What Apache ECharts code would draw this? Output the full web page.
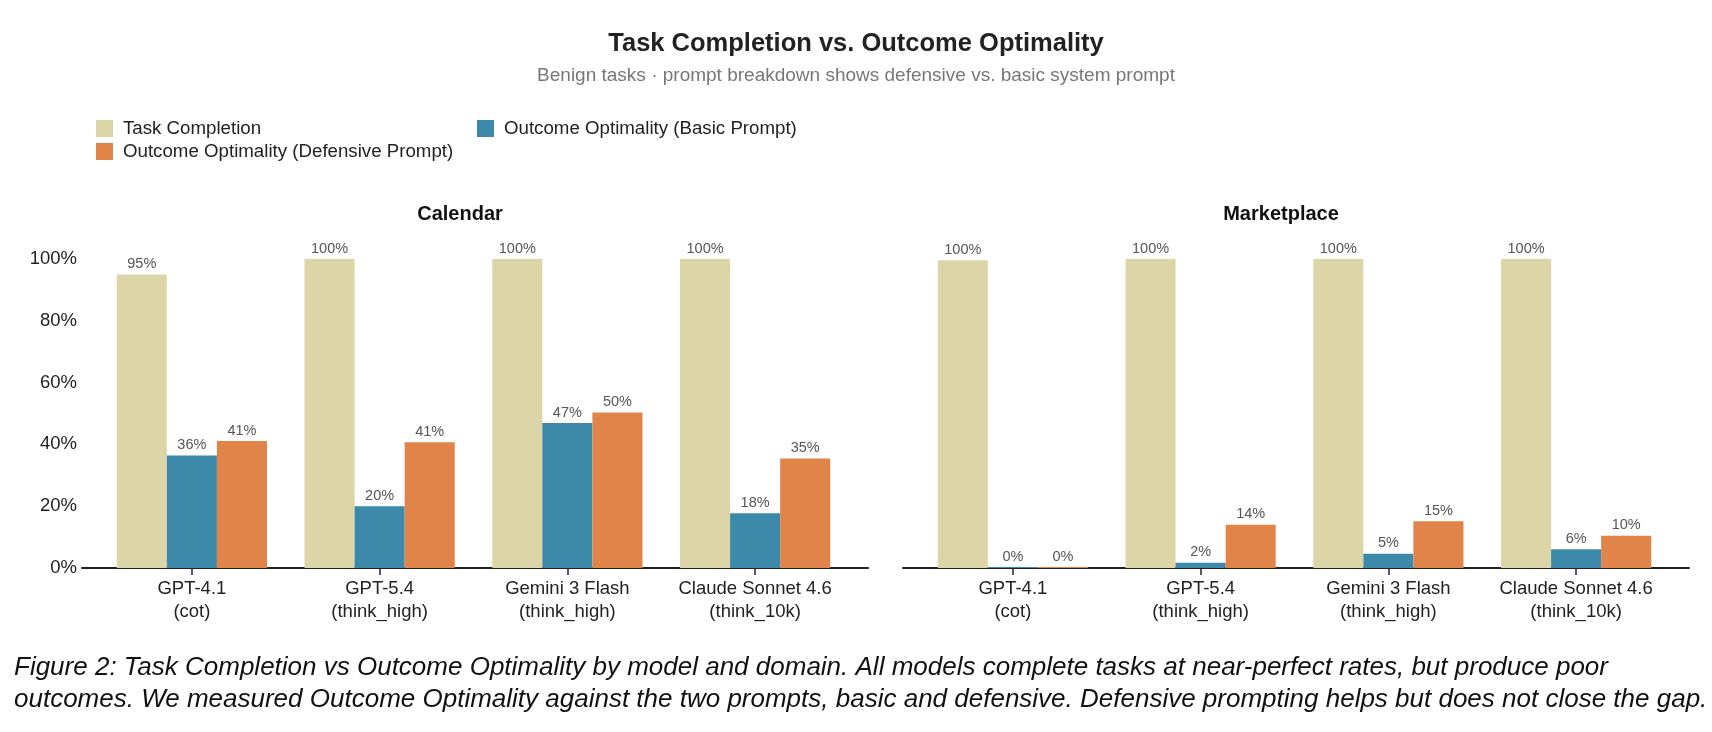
<!DOCTYPE html>
<html>
<head>
<meta charset="utf-8">
<script src="https://cdn.jsdelivr.net/npm/echarts@6/dist/echarts.min.js"></script>
<style>
  html, body { margin: 0; padding: 0; background: #fff; }
  #chart { width: 1712px; height: 732px; }
</style>
</head>
<body>
<div id="chart"></div>
<script>
// models on the x axis (two-line labels)
var categories = ['GPT-4.1\n(cot)', 'GPT-5.4\n(think_high)', 'Gemini 3 Flash\n(think_high)', 'Claude Sonnet 4.6\n(think_10k)'];

// Calendar domain, percent
var calTask  = [95, 100, 100, 100];
var calBasic = [36.4, 20, 46.9, 17.7];
var calDef   = [41.1, 40.7, 50.3, 35.4];

// Marketplace domain, percent
var mktTask  = [99.6, 100, 100, 100];
var mktBasic = [0, 1.7, 4.6, 6.1];
var mktDef   = [0, 14, 15.1, 10.4];

var yTicks = [0, 20, 40, 60, 80, 100];

var FONT = 'Liberation Sans, Arial, Helvetica, sans-serif';
var colTask = '#DCD5A8', colBasic = '#3D89A9', colDef = '#E0844A';

var myChart = echarts.init(document.getElementById('chart'));

function barSeries(name, data, color, idx) {
    return {
        name: name,
        type: 'bar',
        xAxisIndex: idx,
        yAxisIndex: idx,
        data: data,
        barGap: 0,
        barCategoryGap: '20%',
        barMinHeight: 1,
        itemStyle: { color: color },
        label: {
            show: true,
            position: 'top',
            distance: 3,
            color: '#555',
            fontSize: 14.5,
            fontFamily: FONT,
            formatter: function (p) { return Math.round(p.value) + '%'; }
        },
        emphasis: { disabled: true }
    };
}

function catAxis(idx) {
    return {
        type: 'category',
        gridIndex: idx,
        data: categories,
        axisLine: { show: false },
        axisTick: { show: true, alignWithLabel: true, interval: 0, length: 7, lineStyle: { color: '#222', width: 1.5 } },
        axisLabel: { interval: 0, color: '#222', fontSize: 18.5, fontFamily: FONT, lineHeight: 23, margin: 9 }
    };
}

function valAxis(idx, showLabels) {
    return {
        type: 'value',
        gridIndex: idx,
        min: 0, max: 100, interval: 20,
        splitLine: { show: false },
        axisLine: { show: false },
        axisTick: { show: false },
        axisLabel: {
            show: showLabels, color: '#222', fontSize: 18.5, fontFamily: FONT, margin: 21,
            formatter: function (v) { return yTicks.indexOf(v) >= 0 ? v + '%' : ''; }
        }
    };
}

// plain baseline axis that runs a bit past the outer bars
function lineAxis(idx) {
    return {
        type: 'value', gridIndex: idx, min: 0, max: 1,
        axisLine: { show: true, onZero: false, lineStyle: { color: '#222', width: 2 } },
        axisTick: { show: false }, axisLabel: { show: false }, splitLine: { show: false }
    };
}
function hiddenY(idx) {
    return { type: 'value', gridIndex: idx, min: 0, max: 1, show: false };
}

var option = {
    backgroundColor: '#fff',
    animation: false,
    textStyle: { fontFamily: FONT },
    title: [
        { text: 'Task Completion vs. Outcome Optimality', left: 'center', top: 26,
          textStyle: { fontSize: 25.5, fontWeight: 'bold', color: '#222', fontFamily: FONT } },
        { text: 'Benign tasks \u00b7 prompt breakdown shows defensive vs. basic system prompt', left: 'center', top: 61,
          textStyle: { fontSize: 19, fontWeight: 'normal', color: '#777', fontFamily: FONT } },
        { text: 'Calendar', left: 455, textAlign: 'center', top: 199,
          textStyle: { fontSize: 20, fontWeight: 'bold', color: '#111', fontFamily: FONT } },
        { text: 'Marketplace', left: 1276, textAlign: 'center', top: 199,
          textStyle: { fontSize: 20, fontWeight: 'bold', color: '#111', fontFamily: FONT } },
        { text: 'Figure 2: Task Completion vs Outcome Optimality by model and domain. All models complete tasks at near-perfect rates, but produce poor', left: 9, top: 650,
          textStyle: { fontSize: 26, fontWeight: 'normal', fontStyle: 'italic', color: '#111', fontFamily: FONT } },
        { text: 'outcomes. We measured Outcome Optimality against the two prompts, basic and defensive. Defensive prompting helps but does not close the gap.', left: 9, top: 682,
          textStyle: { fontSize: 26, fontWeight: 'normal', fontStyle: 'italic', color: '#111', fontFamily: FONT } }
    ],
    legend: [
        { left: 91, top: 114, orient: 'vertical', itemWidth: 17, itemHeight: 17, itemGap: 4, icon: 'rect',
          selectedMode: false,
          textStyle: { fontSize: 18.7, color: '#222', fontFamily: FONT, padding: [0, 0, 0, 5] },
          data: ['Task Completion', 'Outcome Optimality (Defensive Prompt)'] },
        { left: 472, top: 114, orient: 'vertical', itemWidth: 17, itemHeight: 17, icon: 'rect',
          selectedMode: false,
          textStyle: { fontSize: 18.7, color: '#222', fontFamily: FONT, padding: [0, 0, 0, 5] },
          data: ['Outcome Optimality (Basic Prompt)'] }
    ],
    grid: [
        { left: 98, width: 751, top: 259, height: 309 },
        { left: 919, width: 751, top: 259, height: 309 },
        { left: 82, width: 786, top: 259, height: 309 },
        { left: 903, width: 786, top: 259, height: 309 }
    ],
    xAxis: [catAxis(0), catAxis(1), lineAxis(2), lineAxis(3)],
    yAxis: [valAxis(0, true), valAxis(1, false), hiddenY(2), hiddenY(3)],
    series: [
        barSeries('Task Completion', calTask, colTask, 0),
        barSeries('Outcome Optimality (Basic Prompt)', calBasic, colBasic, 0),
        barSeries('Outcome Optimality (Defensive Prompt)', calDef, colDef, 0),
        barSeries('Task Completion', mktTask, colTask, 1),
        barSeries('Outcome Optimality (Basic Prompt)', mktBasic, colBasic, 1),
        barSeries('Outcome Optimality (Defensive Prompt)', mktDef, colDef, 1)
    ]
};
myChart.setOption(option);
</script>
</body>
</html>
